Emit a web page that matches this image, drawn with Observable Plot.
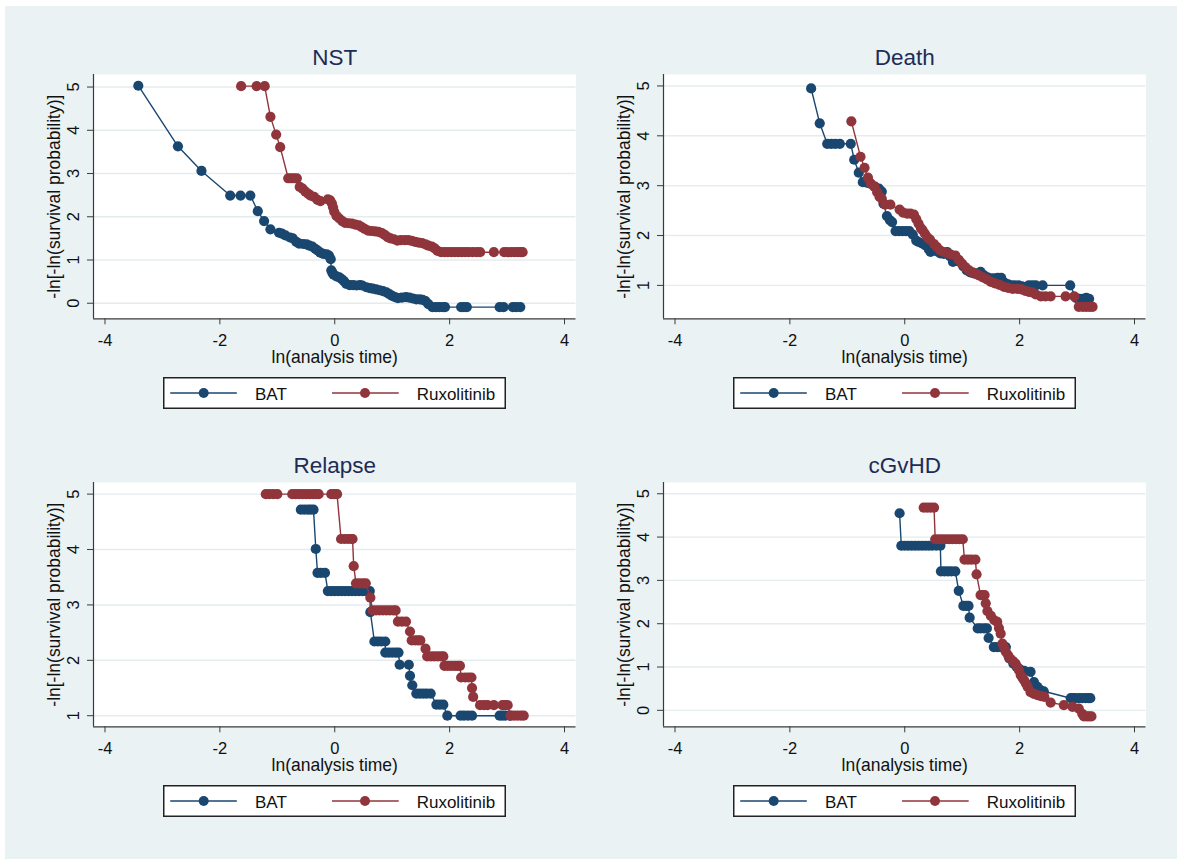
<!DOCTYPE html>
<html>
<head>
<meta charset="utf-8">
<script src="https://cdn.jsdelivr.net/npm/d3@7"></script>
<script src="https://cdn.jsdelivr.net/npm/@observablehq/plot@0.6"></script>
<style>
  html, body { margin: 0; padding: 0; background: #ffffff; }
  body { width: 1177px; height: 859px; overflow: hidden; position: relative;
         font-family: "Liberation Sans", Arial, Helvetica, sans-serif; }
  #bg { position: absolute; left: 4.5px; top: 6px; right: 0; bottom: 0; background: #eaf2f3; }
  .panel { position: absolute; }
  .legend { position: absolute; }
</style>
</head>
<body>
<div id="bg"></div>
<div id="root"></div>
<script>
// ---------------- data ----------------
const panelTitles = ["NST", "Death", "Relapse", "cGvHD"];
const seriesNames = ["BAT", "Ruxolitinib"];
const seriesColors = ["#1a476f", "#90353b"];
const xTitle = "ln(analysis time)";
const yTitle = "-ln[-ln(survival probability)]";
const xTicks = [-4, -2, 0, 2, 4];
const nstYTicks = [0, 1, 2, 3, 4, 5];
const deathYTicks = [1, 2, 3, 4, 5];
const relapseYTicks = [1, 2, 3, 4, 5];
const cgvhdYTicks = [0, 1, 2, 3, 4, 5];

const nstBAT = [[-3.42,5.03],[-2.73,3.63],[-2.32,3.06],[-1.82,2.49],[-1.64,2.49],[-1.47,2.49],[-1.34,2.13],[-1.23,1.90],[-1.12,1.71],[-0.97,1.63],[-0.92,1.61],[-0.86,1.57],[-0.78,1.52],[-0.73,1.50],[-0.67,1.42],[-0.62,1.38],[-0.55,1.37],[-0.49,1.36],[-0.44,1.33],[-0.39,1.31],[-0.34,1.26],[-0.30,1.22],[-0.25,1.17],[-0.20,1.14],[-0.14,1.13],[-0.10,1.10],[-0.07,1.02],[-0.06,0.76],[-0.04,0.70],[-0.02,0.66],[0.03,0.62],[0.08,0.60],[0.12,0.56],[0.16,0.51],[0.20,0.45],[0.26,0.42],[0.32,0.42],[0.38,0.41],[0.44,0.42],[0.48,0.41],[0.55,0.37],[0.61,0.35],[0.66,0.34],[0.72,0.32],[0.78,0.30],[0.84,0.28],[0.90,0.25],[0.95,0.21],[1.00,0.17],[1.05,0.14],[1.10,0.12],[1.17,0.13],[1.24,0.14],[1.30,0.13],[1.36,0.11],[1.42,0.09],[1.48,0.09],[1.53,0.08],[1.58,0.05],[1.63,-0.02],[1.70,-0.09],[1.76,-0.09],[1.82,-0.09],[1.88,-0.09],[1.92,-0.09],[2.20,-0.09],[2.25,-0.09],[2.30,-0.09],[2.87,-0.09],[2.94,-0.09],[3.10,-0.09],[3.16,-0.09],[3.23,-0.09]];
const nstRux = [[-1.63,5.02],[-1.36,5.02],[-1.22,5.02],[-1.12,4.31],[-1.02,3.90],[-0.95,3.61],[-0.81,2.89],[-0.76,2.89],[-0.71,2.89],[-0.66,2.89],[-0.61,2.69],[-0.56,2.65],[-0.51,2.58],[-0.46,2.53],[-0.42,2.49],[-0.36,2.46],[-0.30,2.39],[-0.25,2.36],[-0.12,2.40],[-0.08,2.38],[-0.05,2.31],[-0.03,2.22],[-0.01,2.12],[0.03,2.02],[0.08,1.96],[0.13,1.90],[0.18,1.86],[0.24,1.85],[0.30,1.84],[0.36,1.82],[0.42,1.80],[0.47,1.76],[0.52,1.72],[0.58,1.68],[0.64,1.67],[0.70,1.66],[0.76,1.65],[0.82,1.62],[0.87,1.58],[0.92,1.53],[0.97,1.50],[1.03,1.48],[1.09,1.45],[1.15,1.46],[1.22,1.46],[1.28,1.46],[1.34,1.44],[1.40,1.42],[1.46,1.40],[1.52,1.39],[1.58,1.36],[1.63,1.33],[1.69,1.31],[1.74,1.27],[1.79,1.21],[1.85,1.18],[1.91,1.18],[1.97,1.18],[2.03,1.18],[2.09,1.18],[2.15,1.18],[2.21,1.18],[2.27,1.18],[2.33,1.18],[2.40,1.18],[2.47,1.18],[2.53,1.18],[2.77,1.18],[2.95,1.18],[3.01,1.18],[3.07,1.18],[3.13,1.18],[3.19,1.18],[3.24,1.18],[3.27,1.18]];

const deathBAT = [[-1.63,4.95],[-1.48,4.25],[-1.35,3.84],[-1.28,3.84],[-1.21,3.84],[-1.13,3.84],[-0.94,3.84],[-0.88,3.52],[-0.80,3.26],[-0.73,3.07],[-0.66,3.06],[-0.60,3.04],[-0.52,2.98],[-0.45,2.94],[-0.40,2.88],[-0.37,2.64],[-0.31,2.39],[-0.26,2.31],[-0.22,2.27],[-0.16,2.09],[-0.10,2.09],[-0.04,2.09],[0.02,2.09],[0.08,2.09],[0.14,2.02],[0.20,1.90],[0.24,1.87],[0.30,1.84],[0.36,1.80],[0.42,1.72],[0.45,1.67],[0.50,1.72],[0.56,1.68],[0.62,1.64],[0.68,1.63],[0.74,1.67],[0.79,1.58],[0.84,1.47],[0.90,1.50],[0.96,1.47],[1.02,1.38],[1.08,1.30],[1.14,1.26],[1.20,1.24],[1.27,1.24],[1.32,1.27],[1.38,1.20],[1.44,1.16],[1.50,1.14],[1.56,1.14],[1.62,1.15],[1.68,1.15],[1.74,1.05],[1.80,1.02],[1.86,1.00],[1.92,1.00],[1.98,1.00],[2.04,0.98],[2.10,0.96],[2.16,1.00],[2.22,1.00],[2.28,1.00],[2.40,1.00],[2.88,1.00],[2.98,0.75],[3.04,0.73],[3.10,0.73],[3.16,0.75],[3.21,0.73]];
const deathRux = [[-0.93,4.29],[-0.77,3.58],[-0.70,3.36],[-0.64,3.16],[-0.59,3.04],[-0.53,2.98],[-0.48,2.87],[-0.44,2.78],[-0.40,2.74],[-0.34,2.62],[-0.25,2.62],[-0.09,2.52],[-0.03,2.46],[0.04,2.44],[0.10,2.44],[0.16,2.42],[0.20,2.33],[0.24,2.24],[0.28,2.15],[0.31,2.11],[0.35,2.04],[0.39,1.97],[0.44,1.92],[0.51,1.83],[0.56,1.77],[0.62,1.70],[0.68,1.67],[0.74,1.65],[0.80,1.62],[0.88,1.60],[0.94,1.51],[1.00,1.43],[1.06,1.36],[1.12,1.30],[1.18,1.26],[1.24,1.23],[1.29,1.20],[1.36,1.16],[1.43,1.12],[1.50,1.07],[1.57,1.04],[1.65,1.01],[1.73,0.97],[1.80,0.95],[1.88,0.93],[1.96,0.93],[2.03,0.92],[2.10,0.89],[2.16,0.87],[2.22,0.86],[2.28,0.82],[2.37,0.78],[2.45,0.78],[2.54,0.78],[2.80,0.78],[2.95,0.78],[3.03,0.57],[3.10,0.57],[3.16,0.57],[3.22,0.57],[3.27,0.57]];

const relapseBAT = [[-0.59,4.72],[-0.53,4.72],[-0.47,4.72],[-0.42,4.72],[-0.37,4.72],[-0.33,4.01],[-0.30,3.58],[-0.24,3.58],[-0.17,3.58],[-0.12,3.25],[-0.06,3.25],[0.00,3.25],[0.06,3.25],[0.12,3.25],[0.18,3.25],[0.24,3.25],[0.30,3.25],[0.36,3.25],[0.42,3.25],[0.48,3.25],[0.54,3.25],[0.61,3.25],[0.62,2.87],[0.69,2.34],[0.75,2.34],[0.81,2.34],[0.88,2.34],[0.88,2.14],[0.94,2.14],[1.00,2.14],[1.06,2.14],[1.11,2.14],[1.13,1.92],[1.29,1.92],[1.31,1.72],[1.35,1.55],[1.42,1.40],[1.48,1.40],[1.54,1.40],[1.60,1.40],[1.67,1.40],[1.77,1.20],[1.83,1.20],[1.89,1.20],[1.96,1.00],[2.19,1.00],[2.25,1.00],[2.32,1.00],[2.39,1.00],[2.87,1.00],[2.92,1.00],[2.97,1.00],[3.05,1.00]];
const relapseRux = [[-1.20,5],[-1.14,5],[-1.07,5],[-1.00,5],[-0.74,5],[-0.68,5],[-0.62,5],[-0.56,5],[-0.50,5],[-0.44,5],[-0.38,5],[-0.33,5],[-0.28,5],[-0.06,5],[-0.01,5],[0.04,5],[0.11,4.19],[0.17,4.19],[0.23,4.19],[0.29,4.19],[0.31,4.19],[0.33,3.70],[0.37,3.39],[0.43,3.39],[0.49,3.39],[0.54,3.39],[0.62,3.13],[0.66,2.90],[0.72,2.90],[0.78,2.90],[0.84,2.90],[0.90,2.90],[0.96,2.90],[1.02,2.90],[1.06,2.90],[1.10,2.70],[1.17,2.70],[1.24,2.70],[1.31,2.52],[1.34,2.36],[1.40,2.36],[1.45,2.36],[1.49,2.36],[1.58,2.21],[1.61,2.07],[1.67,2.07],[1.73,2.07],[1.79,2.07],[1.85,2.07],[1.89,2.07],[1.91,1.90],[1.97,1.90],[2.03,1.90],[2.09,1.90],[2.14,1.90],[2.18,1.90],[2.20,1.69],[2.27,1.69],[2.33,1.69],[2.38,1.69],[2.39,1.50],[2.41,1.34],[2.53,1.19],[2.60,1.19],[2.66,1.19],[2.77,1.19],[2.92,1.19],[2.97,1.19],[3.01,1.19],[3.06,1.00],[3.12,1.00],[3.18,1.00],[3.24,1.00],[3.29,1.00]];

const cgvhdBAT = [[-0.09,4.55],[-0.06,3.80],[0.00,3.80],[0.06,3.80],[0.12,3.80],[0.18,3.80],[0.24,3.80],[0.30,3.80],[0.36,3.80],[0.42,3.80],[0.48,3.80],[0.55,3.80],[0.62,3.80],[0.63,3.21],[0.69,3.21],[0.75,3.21],[0.81,3.21],[0.88,3.21],[0.94,2.76],[1.02,2.41],[1.07,2.41],[1.11,2.41],[1.13,2.14],[1.27,1.89],[1.32,1.89],[1.38,1.89],[1.43,1.89],[1.46,1.67],[1.55,1.46],[1.61,1.46],[1.67,1.46],[1.72,1.46],[1.76,1.46],[1.82,1.20],[1.89,1.08],[1.95,1.00],[2.00,0.95],[2.08,0.91],[2.19,0.89],[2.25,0.65],[2.31,0.54],[2.36,0.47],[2.42,0.44],[2.89,0.28],[2.93,0.28],[2.96,0.28],[3.03,0.28],[3.09,0.28],[3.15,0.28],[3.20,0.28],[3.23,0.28]];
const cgvhdRux = [[0.33,4.68],[0.39,4.68],[0.45,4.68],[0.51,4.68],[0.53,3.95],[0.59,3.95],[0.65,3.95],[0.71,3.95],[0.77,3.95],[0.83,3.95],[0.89,3.95],[0.95,3.95],[1.01,3.95],[1.04,3.48],[1.10,3.48],[1.16,3.48],[1.23,3.48],[1.25,3.14],[1.32,2.66],[1.36,2.66],[1.39,2.66],[1.41,2.47],[1.44,2.29],[1.50,2.18],[1.56,2.08],[1.61,2.04],[1.64,1.90],[1.67,1.77],[1.70,1.54],[1.73,1.45],[1.76,1.35],[1.80,1.27],[1.84,1.19],[1.89,1.13],[1.93,1.08],[1.96,1.00],[1.99,0.92],[2.02,0.81],[2.05,0.75],[2.08,0.69],[2.11,0.62],[2.14,0.54],[2.19,0.42],[2.25,0.38],[2.31,0.35],[2.37,0.33],[2.43,0.31],[2.54,0.18],[2.77,0.12],[2.92,0.08],[3.03,0.04],[3.09,-0.08],[3.12,-0.14],[3.17,-0.14],[3.21,-0.14],[3.25,-0.14]];

// ---------------- layout / style ----------------
const xDomain = [-4.2, 4.2];
const gridColor = "#e4ecee";
const axisColor = "#3a3a3a";
const textColor = "#111111";
const titleColor = "#1e2b57";
const FONT = '"Liberation Sans", Arial, Helvetica, sans-serif';
const frameW = 482.5, frameH = 244.3;
const ML = 90, MR = 12, MT = 45, MB = 62;
const markerR = 5.1, lineW = 1.4;

const panels = [
  {title: panelTitles[0], bat: nstBAT, rux: nstRux, yTicks: nstYTicks, yDomain: [-0.36, 5.29], left: 93.3, top: 74},
  {title: panelTitles[1], bat: deathBAT, rux: deathRux, yTicks: deathYTicks, yDomain: [0.33, 5.23], left: 663.3, top: 74},
  {title: panelTitles[2], bat: relapseBAT, rux: relapseRux, yTicks: relapseYTicks, yDomain: [0.80, 5.21], left: 93.3, top: 482},
  {title: panelTitles[3], bat: cgvhdBAT, rux: cgvhdRux, yTicks: cgvhdYTicks, yDomain: [-0.38, 5.26], left: 663.3, top: 482}
];

const root = document.getElementById("root");

function rows(arr, s) { return arr.map(([x, y]) => ({x, y, s})); }

function seriesMarks(data, color) {
  return [
    Plot.line(data, {x: "x", y: "y", stroke: color, strokeWidth: lineW}),
    Plot.dot(data, {x: "x", y: "y", r: markerR, fill: color, stroke: "none"})
  ];
}

for (const p of panels) {
  const bat = rows(p.bat, seriesNames[0]);
  const rux = rows(p.rux, seriesNames[1]);
  const chart = Plot.plot({
    width: frameW + ML + MR,
    height: frameH + MT + MB,
    marginLeft: ML, marginRight: MR, marginTop: MT, marginBottom: MB,
    x: {domain: xDomain},
    y: {domain: p.yDomain},
    style: {background: "transparent", overflow: "visible", maxWidth: "none", fontFamily: FONT, color: textColor},
    marks: [
      Plot.frame({fill: "white", stroke: "none"}),
      Plot.ruleY(p.yTicks, {stroke: gridColor, strokeWidth: 1.4}),
      Plot.ruleX([xDomain[0]], {stroke: axisColor, strokeWidth: 1.2}),
      Plot.ruleY([p.yDomain[0]], {stroke: axisColor, strokeWidth: 1.2}),
      Plot.axisX(xTicks, {anchor: "bottom", tickSize: 6, tickPadding: 9, tickFormat: d => String(d),
                          fontSize: 16.5, label: null, stroke: axisColor, fill: textColor}),
      Plot.axisY(p.yTicks, {anchor: "left", tickSize: 6, tickFormat: () => "", label: null, stroke: axisColor}),
      Plot.text(p.yTicks, {y: d => d, frameAnchor: "left", dx: -20, rotate: -90, text: d => String(d),
                           fontSize: 16.5, lineAnchor: "middle", textAnchor: "middle", fill: textColor}),
      Plot.text([yTitle], {frameAnchor: "left", dx: -39, rotate: -90, text: d => d, fontSize: 17.5,
                           lineAnchor: "middle", textAnchor: "middle", fill: textColor}),
      Plot.text([xTitle], {frameAnchor: "bottom", dy: 39, text: d => d, fontSize: 17.5,
                           lineAnchor: "middle", textAnchor: "middle", fill: textColor}),
      Plot.text([p.title], {frameAnchor: "top", dy: -9, text: d => d, fontSize: 22.5,
                            lineAnchor: "bottom", textAnchor: "middle", fill: titleColor}),
      ...seriesMarks(bat, seriesColors[0]),
      ...seriesMarks(rux, seriesColors[1])
    ]
  });
  chart.classList.add("panel");
  chart.style.left = (p.left - ML) + "px";
  chart.style.top = (p.top - MT) + "px";
  chart.style.position = "absolute";
  root.appendChild(chart);

  // legend box below the panel
  const lgW = 343, lgH = 32;
  const lx = p.left + 70, ly = p.top + frameH + 58.4;
  const ns = "http://www.w3.org/2000/svg";
  const svg = document.createElementNS(ns, "svg");
  svg.setAttribute("width", lgW); svg.setAttribute("height", lgH);
  svg.setAttribute("class", "legend");
  svg.style.left = lx + "px"; svg.style.top = ly + "px";
  const rect = document.createElementNS(ns, "rect");
  rect.setAttribute("x", 0.75); rect.setAttribute("y", 0.75);
  rect.setAttribute("width", lgW - 1.5); rect.setAttribute("height", lgH - 1.5);
  rect.setAttribute("fill", "white"); rect.setAttribute("stroke", "#222"); rect.setAttribute("stroke-width", 1.5);
  svg.appendChild(rect);
  const items = [
    {x0: 7.2, x1: 73.8, cx: 40.7, tx: 92},
    {x0: 169, x1: 235.7, cx: 202, tx: 253.7}
  ];
  items.forEach((it, i) => {
    const ln = document.createElementNS(ns, "line");
    ln.setAttribute("x1", it.x0); ln.setAttribute("x2", it.x1);
    ln.setAttribute("y1", 16); ln.setAttribute("y2", 16);
    ln.setAttribute("stroke", seriesColors[i]); ln.setAttribute("stroke-width", lineW);
    svg.appendChild(ln);
    const c = document.createElementNS(ns, "circle");
    c.setAttribute("cx", it.cx); c.setAttribute("cy", 16); c.setAttribute("r", 5);
    c.setAttribute("fill", seriesColors[i]);
    svg.appendChild(c);
    const t = document.createElementNS(ns, "text");
    t.setAttribute("x", it.tx); t.setAttribute("y", 22.6);
    t.setAttribute("font-size", 17); t.setAttribute("font-family", FONT);
    t.setAttribute("fill", textColor);
    t.textContent = seriesNames[i];
    svg.appendChild(t);
  });
  root.appendChild(svg);
}
</script>
</body>
</html>
